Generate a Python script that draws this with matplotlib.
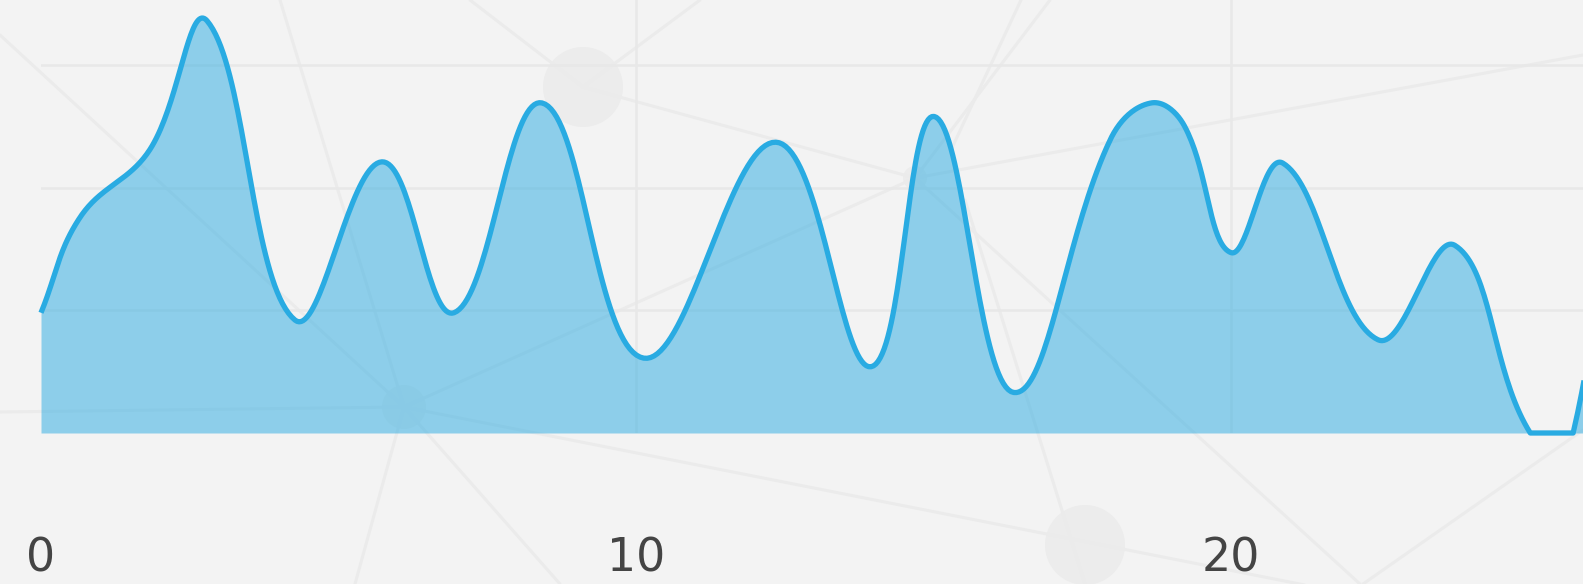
import numpy as np
import matplotlib.pyplot as plt
from matplotlib.patches import Circle

# values
x_vals = [0.00, 0.66, 1.83, 2.79, 4.27, 5.73, 6.94, 8.42, 10.13, 12.35, 13.95,
          15.01, 16.35, 17.97, 18.66, 19.22, 20.00, 20.87, 22.47, 23.76, 25.03,
          25.75, 26.49]
y_vals = [98, 176, 231, 336, 92, 221, 98, 269, 61, 237, 54,
          258, 33, 239, 269, 250, 147, 220, 76, 153, 0,
          0, 304]
x_ticks = [0, 10, 20]
y_grid = [100, 200, 300]

line_color = "#29abe2"
bg_color = "#f3f3f3"


def tension_curve(pts, tension=0.4, ylo=None, yhi=None, n=40):
    # bezier spline with control points along (next - prev), as in Chart.js,
    # control points kept inside the chart area
    pts = np.asarray(pts, float)
    cp_in = np.zeros_like(pts)
    cp_out = np.zeros_like(pts)
    for i in range(len(pts)):
        cur = pts[i]
        prev = pts[i - 1] if i > 0 else cur
        nxt = pts[i + 1] if i < len(pts) - 1 else cur
        d01 = np.hypot(*(cur - prev))
        d12 = np.hypot(*(nxt - cur))
        tot = d01 + d12
        s01 = d01 / tot if tot else 0
        s12 = d12 / tot if tot else 0
        cp_in[i] = cur - tension * s01 * (nxt - prev)
        cp_out[i] = cur + tension * s12 * (nxt - prev)
    if ylo is not None:
        cp_in[:, 1] = np.clip(cp_in[:, 1], ylo, yhi)
        cp_out[:, 1] = np.clip(cp_out[:, 1], ylo, yhi)
    t = np.linspace(0, 1, n)[:, None]
    out = [pts[:1]]
    for i in range(len(pts) - 1):
        seg = ((1 - t) ** 3 * pts[i] + 3 * (1 - t) ** 2 * t * cp_out[i]
               + 3 * (1 - t) * t ** 2 * cp_in[i + 1] + t ** 3 * pts[i + 1])
        out.append(seg[1:])
    return np.vstack(out)


fig = plt.figure(figsize=(15.83, 5.84), dpi=100)
fig.patch.set_facecolor(bg_color)

# faint network pattern behind the chart
bg = fig.add_axes([0, 0, 1, 1], zorder=0)
bg.set_xlim(0, 1583)
bg.set_ylim(584, 0)
bg.axis("off")
net_lines = [
    ((0, 35), (404, 407)), ((280, 0), (404, 407)), ((0, 412), (404, 407)),
    ((404, 407), (355, 584)), ((404, 407), (560, 584)), ((404, 407), (915, 178)),
    ((470, 0), (583, 87)), ((583, 87), (700, 0)), ((583, 87), (915, 178)),
    ((915, 178), (1050, 0)), ((951, 150), (1021, 0)), ((915, 178), (1583, 55)),
    ((915, 178), (1360, 584)), ((965, 200), (1085, 584)), ((404, 407), (1583, 640)),
    ((1363, 584), (1583, 430)),
]
for (x0, y0), (x1, y1) in net_lines:
    bg.plot([x0, x1], [y0, y1], color="#ebebeb", lw=2.2, solid_capstyle="round")
for cx, cy, r in [(583, 87, 40), (404, 407, 22), (915, 178, 12), (1085, 545, 40)]:
    bg.add_patch(Circle((cx, cy), r, color="#ececec", lw=0))

ax = fig.add_axes([41 / 1583, (584 - 433) / 584, 1 - 41 / 1583, 433 / 584], zorder=1)
ax.set_facecolor("none")
ax.set_xlim(0, (1583 - 41) / 59.5)
ax.set_ylim(0, 433 * 0.815)
for s in ax.spines.values():
    s.set_visible(False)

for gx in x_ticks[1:]:
    ax.axvline(gx, color="#e8e8e8", lw=1.8, zorder=0.5)
for gy in y_grid:
    ax.axhline(gy, color="#e8e8e8", lw=1.8, zorder=0.5)

# build the curve in pixel space, then back to data units
pts = ax.transData.transform(np.column_stack([x_vals, y_vals]))
y_lo, y_hi = ax.transData.transform([(0, 0), (0, 433 * 0.815)])[:, 1]
curve = ax.transData.inverted().transform(tension_curve(pts, 0.4, y_lo, y_hi))
xs = curve[:, 0]
ys = np.maximum(curve[:, 1], 0)

ax.fill_between(xs, 0, ys, color=line_color, alpha=0.5, lw=0, zorder=1)
ax.plot(xs, ys, color=line_color, lw=3.8, zorder=3, clip_on=False,
        solid_joinstyle="round", solid_capstyle="butt")

ax.set_xticks(x_ticks)
ax.set_xticklabels([str(v) for v in x_ticks])
ax.set_yticks([])
ax.tick_params(axis="x", length=0, pad=74.5, labelsize=33, labelcolor="#444444")

fig.savefig("out.png", dpi=100, facecolor=bg_color)
